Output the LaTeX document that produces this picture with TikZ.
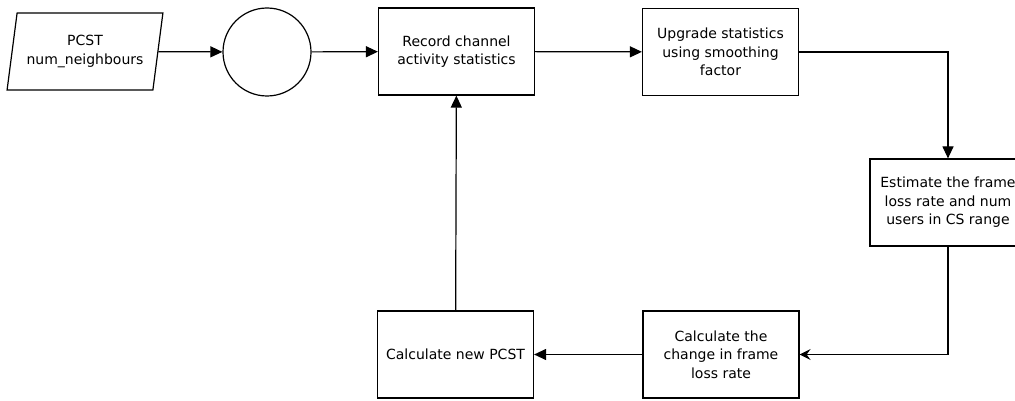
\documentclass[tikz,border=0pt]{standalone}
\usepackage{fontspec}
\setmainfont{DejaVu Sans}
\usetikzlibrary{arrows.meta,shapes.geometric}

\begin{document}
\begin{tikzpicture}[x=1pt,y=-1pt,line width=1.2pt,
    font=\fontsize{14}{18.5}\selectfont,
    box/.style={draw,rectangle,align=center,minimum width=156pt,minimum height=87pt,inner sep=2pt},
    tri/.style={-{Triangle[length=12pt,width=11pt]}},
    stl/.style={-{Stealth[length=11pt,width=11pt,inset=4pt]}}]
                      \useasboundingbox (0,0) rectangle (1015,401);
                      \clip (0,0) rectangle (1015,401);
                      \node[draw,trapezium,trapezium left angle=75,trapezium right angle=105,trapezium stretches=true,
                            minimum width=156pt,minimum height=77pt,inner sep=0pt,align=center](input)at(85,51.5){PCST\\num\_neighbours};
                      \node[circle,draw,minimum size=88pt,inner sep=0pt](join)at(267,52){};
                      \node[box](record)at(456.5,51.5){Record channel\\activity statistics};
                      \node[box](upgrade)at(720.5,52){Upgrade statistics\\using smoothing\\factor};
                      \node[box](estimate)at(948,202.5){Estimate the frame\\loss rate and num\\users in CS range};
                      \node[box](change)at(721,354.5){Calculate the\\change in frame\\loss rate};
                      \node[box](newpcst)at(455.5,354.5){Calculate new PCST};
                      \draw[tri](input)--(join);
                      \draw[tri](join)--(record);
                      \draw[tri](record)--(upgrade);
                      \draw[tri](upgrade.east)-|(estimate.north);
                      \draw[stl](estimate.south)|-(change.east);
                      \draw[tri](change)--(newpcst);
                      \draw[tri](newpcst)--(record);
                  \end{tikzpicture}
\end{document}
